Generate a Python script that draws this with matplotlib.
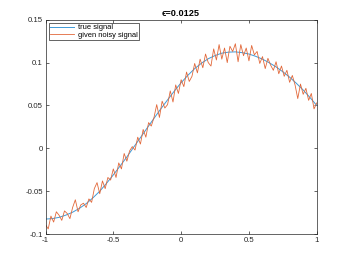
import numpy as np
import matplotlib
matplotlib.use("Agg")
import matplotlib.pyplot as plt

# true signal, read every 0.05
x_true = np.linspace(-1, 1, 41)
y_true = [-0.0825, -0.0820, -0.0805, -0.0779, -0.0745, -0.0700, -0.0645, -0.0577,
          -0.0500, -0.0408, -0.0310, -0.0206, -0.0100, 0.0013, 0.0125, 0.0238,
          0.0350, 0.0460, 0.0565, 0.0668, 0.0765, 0.0852, 0.0930, 0.0993,
          0.1045, 0.1082, 0.1110, 0.1122, 0.1125, 0.1116, 0.1100, 0.1073,
          0.1040, 0.0998, 0.0950, 0.0893, 0.0830, 0.0758, 0.0680, 0.0593, 0.0500]

# noisy signal, read every 0.02 (101 values)
y_noisy = [-0.089, -0.094, -0.079, -0.086, -0.074, -0.078, -0.084, -0.073, -0.076, -0.082,
           -0.069, -0.060, -0.074, -0.066, -0.064, -0.069, -0.059, -0.063, -0.047, -0.040,
           -0.053, -0.038, -0.047, -0.034, -0.037, -0.024, -0.034, -0.017, -0.024, -0.006,
           -0.015, -0.003, 0.002, -0.002, 0.013, 0.005, 0.022, 0.013, 0.030, 0.026,
           0.036, 0.051, 0.036, 0.055, 0.047, 0.051, 0.067, 0.054, 0.074, 0.064,
           0.080, 0.072, 0.089, 0.078, 0.084, 0.099, 0.088, 0.104, 0.094, 0.110,
           0.100, 0.096, 0.116, 0.103, 0.121, 0.104, 0.117, 0.100, 0.119, 0.113,
           0.122, 0.101, 0.121, 0.108, 0.117, 0.102, 0.120, 0.109, 0.113, 0.099,
           0.107, 0.093, 0.105, 0.097, 0.091, 0.101, 0.087, 0.096, 0.084, 0.091,
           0.077, 0.085, 0.074, 0.058, 0.075, 0.063, 0.070, 0.056, 0.064, 0.046,
           0.053]
x_noisy = np.linspace(-1, 1, len(y_noisy))

xticks = [-1, -0.5, 0, 0.5, 1]
yticks = [-0.1, -0.05, 0, 0.05, 0.1, 0.15]

plt.rcParams['font.family'] = ['Liberation Sans', 'DejaVu Sans']
plt.rcParams['font.size'] = 5.6

fig = plt.figure(figsize=(3.5, 2.63), dpi=100)
ax = fig.add_axes([0.13, 0.11, 0.775, 0.815])

ax.plot(x_true, y_true, color='#3E9AD8', lw=0.7, label='true signal')
ax.plot(x_noisy, y_noisy, color='#E2683A', lw=0.6, label='given noisy signal')

ax.set_xlim(-1, 1)
ax.set_ylim(-0.1, 0.15)
ax.set_xticks(xticks)
ax.set_xticklabels(['-1', '-0.5', '0', '0.5', '1'])
ax.set_yticks(yticks)
ax.set_yticklabels(['-0.1', '-0.05', '0', '0.05', '0.1', '0.15'])
ax.tick_params(direction='in', top=True, right=True, length=2.5, width=0.5,
               colors='#262626', labelsize=5.6, pad=2)
for s in ax.spines.values():
    s.set_linewidth(0.5)
    s.set_color('#262626')

ax.set_title('ϵ=0.0125', fontsize=6.6, fontweight='bold', pad=2.5)

leg = ax.legend(loc='upper left', fontsize=5.4, handlelength=3.2, borderpad=0.2,
                labelspacing=0.0, handletextpad=0.5, borderaxespad=0.4,
                fancybox=False, framealpha=1)
leg.get_frame().set_edgecolor('#262626')
leg.get_frame().set_linewidth(0.5)

fig.savefig('out.png', dpi=100)
